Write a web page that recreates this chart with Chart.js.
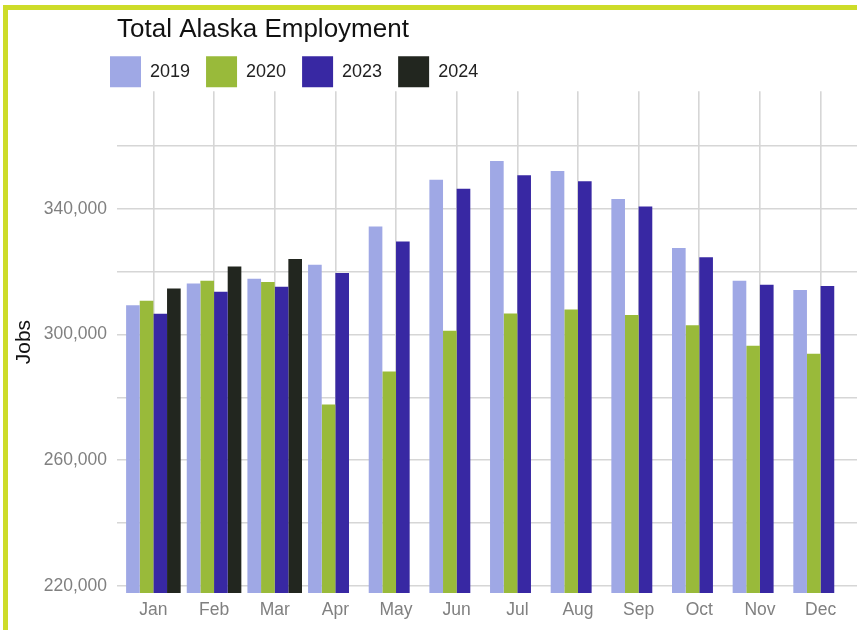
<!DOCTYPE html>
<html>
<head>
<meta charset="utf-8">
<script src="https://cdn.jsdelivr.net/npm/chart.js@4/dist/chart.umd.min.js"></script>
<style>
  html, body { margin: 0; padding: 0; background: #fff; }
  #wrap { position: relative; width: 857px; height: 630px; }
  #frame { position: absolute; left: 3px; top: 5px; right: 0; bottom: 0;
           border-left: 5px solid #cddc29; border-top: 5px solid #cddc29; pointer-events: none; }
</style>
</head>
<body>
<div id="wrap">
  <canvas id="jobsChart" width="857" height="630"></canvas>
  <div id="frame"></div>
</div>
<script>
// months and monthly jobs per year
const months = ['Jan', 'Feb', 'Mar', 'Apr', 'May', 'Jun', 'Jul', 'Aug', 'Sep', 'Oct', 'Nov', 'Dec'];
const jobs2019 = [309300, 316300, 317800, 322200, 334400, 349300, 355300, 352100, 343200, 327600, 317100, 314200];
const jobs2020 = [310800, 317100, 316700, 277700, 288200, 301200, 306700, 308000, 306200, 303000, 296400, 293900];
const jobs2023 = [306600, 313600, 315200, 319600, 329600, 346400, 350700, 348800, 340800, 324600, 315900, 315500];
const jobs2024 = [314700, 321700, 324100, null, null, null, null, null, null, null, null, null];
// gridlines every 20,000, labels every 40,000
const yGridValues = [220000, 240000, 260000, 280000, 300000, 320000, 340000, 360000];
const yTickLabels = [220000, 260000, 300000, 340000];

const fontFamily = "'Liberation Sans', Arial, sans-serif";

function toPoints(values) {
    return values.map((v, i) => ({ x: i, y: v }));
}

// legend sits a bit left of the plot, like the original
const shiftLegend = {
    id: 'shiftLegend',
    afterLayout(chart) {
        chart.legend.left = 94;
    }
};

const ctx = document.getElementById('jobsChart').getContext('2d');
new Chart(ctx, {
    type: 'bar',
    data: {
        datasets: [
            { label: '2019', data: toPoints(jobs2019), backgroundColor: '#9fa8e5' },
            { label: '2020', data: toPoints(jobs2020), backgroundColor: '#99ba3a' },
            { label: '2023', data: toPoints(jobs2023), backgroundColor: '#3828a3' },
            { label: '2024', data: toPoints(jobs2024), backgroundColor: '#22261f' }
        ]
    },
    options: {
        responsive: false,
        animation: false,
        layout: { padding: 0 },
        datasets: {
            bar: { categoryPercentage: 0.9, barPercentage: 1.0, borderWidth: 0 }
        },
        plugins: {
            title: {
                display: true,
                text: 'Total Alaska Employment',
                align: 'start',
                fullSize: false,
                color: '#111',
                font: { family: fontFamily, size: 26, weight: 'normal', lineHeight: 1.2 },
                padding: { top: 14, bottom: -5 }
            },
            legend: {
                display: true,
                align: 'start',
                maxHeight: 51,
                labels: {
                    boxWidth: 31,
                    boxHeight: 31,
                    padding: 16,
                    color: '#222',
                    font: { family: fontFamily, size: 18 }
                }
            },
            tooltip: { enabled: false }
        },
        scales: {
            x: {
                type: 'linear',
                min: -0.6,
                max: 11.6,
                offset: false,
                border: { display: false },
                grid: { color: '#d6d6d6', lineWidth: 1.6, drawTicks: false, offset: false },
                ticks: {
                    stepSize: 1,
                    includeBounds: false,
                    autoSkip: false,
                    maxRotation: 0,
                    padding: 7,
                    color: '#808080',
                    font: { family: fontFamily, size: 17.5 },
                    callback: function(value) {
                        return months[value];
                    }
                },
                afterFit: function(scale) { scale.height = 37; }
            },
            y: {
                min: 217700,
                max: 377500,
                border: { display: false },
                grid: { color: '#d6d6d6', lineWidth: 1.4, drawTicks: false },
                title: {
                    display: true,
                    text: 'Jobs',
                    color: '#111',
                    font: { family: fontFamily, size: 21 },
                    padding: { top: 12, bottom: 4 }
                },
                ticks: {
                    padding: 10,
                    color: '#808080',
                    font: { family: fontFamily, size: 17.5 },
                    callback: function(value) {
                        return yTickLabels.includes(value) ? value.toLocaleString('en-US') : '';
                    }
                },
                afterBuildTicks: function(scale) {
                    scale.ticks = yGridValues.map(v => ({ value: v }));
                },
                afterFit: function(scale) { scale.width = 117; }
            }
        }
    },
    plugins: [shiftLegend]
});
</script>
</body>
</html>
